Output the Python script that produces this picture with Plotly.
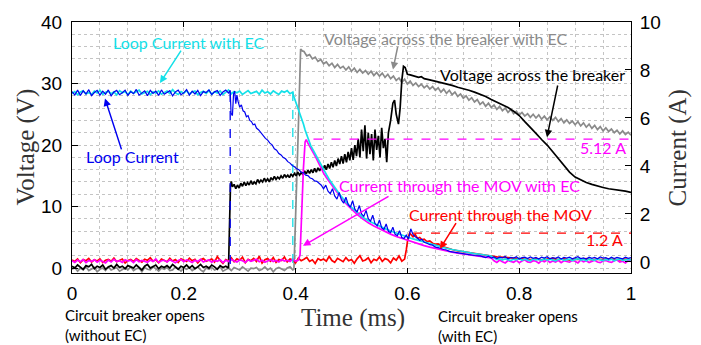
import plotly.graph_objects as go

# ---------------- data ----------------
# time in ms; voltages in V (left axis), currents in A (right axis)
STEP = 0.005

# Loop current (no EC), blue, A
loop_flat = [7.10,6.96,7.16,6.94,7.13,7.00,7.18,6.93,7.06,7.15,
             6.95,7.12,6.99,7.17,6.92,7.08,7.15,6.97,7.05,7.16,
             6.94,7.10,7.01,7.19,6.95,7.06,7.13,6.93,7.15,7.02,
             7.12,6.94,7.17,6.99,7.08,7.14,6.92,7.09,7.16,6.97,
             7.05,7.18,6.95,7.12,7.00,7.15,6.93,7.10,7.06,7.17,
             6.98,7.09,7.14,6.94,7.08,7.16,7.04]
loop_tr_t = [0.283,0.2845,0.287,0.289,0.291,0.293,0.295,0.297,0.300,0.303,0.306,0.309,0.312,0.315,0.318,
             0.321,0.324,0.327,0.330,0.334,0.338,0.342,0.346,0.350,0.354,0.358,0.362,0.366,0.370,0.374,
             0.378,0.382,0.386,0.390,0.394,0.398,0.402,0.406,0.410,0.414,0.418,0.422,0.426,0.430,0.434,
             0.438,0.442,0.446,0.450,0.454,0.458,0.462,0.466,0.470,0.474,0.478,0.482,0.486,0.490,0.494,
             0.498,0.502,0.506,0.510,0.514,0.518,0.522,0.526,0.530,0.534,0.538,0.542,0.546,0.550,0.554,
             0.558,0.562,0.566,0.570,0.574,0.578,0.582,0.586,0.590,0.594,0.598,0.602,0.606,0.610,0.614,
             0.618,0.622,0.626,0.630,0.635,0.640,0.645,0.650,0.655,0.660,0.665,0.670,0.675,0.680,0.690,
             0.700,0.710,0.720,0.730]
loop_tr_i = [7.15,6.2,6.1,7.0,7.12,6.6,6.95,6.7,6.45,6.55,6.3,6.25,6.05,6.1,5.9,
             5.85,5.72,5.75,5.58,5.5,5.38,5.3,5.15,5.08,4.95,4.88,4.72,4.66,4.52,4.46,
             4.35,4.3,4.18,4.12,4.02,3.97,3.88,3.84,3.74,3.72,3.62,3.6,3.5,3.47,3.38,
             3.36,3.28,3.2,3.05,3.2,2.95,2.85,3.05,2.75,2.62,2.9,2.58,2.45,2.7,2.4,
             2.28,2.55,2.2,2.08,2.35,2.0,1.9,2.15,1.8,1.7,1.95,1.6,1.5,1.75,1.42,
             1.35,1.58,1.28,1.22,1.45,1.15,1.1,1.3,1.02,0.98,1.12,0.95,1.38,1.15,1.05,
             1.0,0.9,0.95,0.82,0.78,0.72,0.7,0.62,0.6,0.55,0.52,0.5,0.44,0.42,0.38,
             0.33,0.31,0.27,0.25]
loop_tail = [0.22,0.18,0.24,0.16,0.21,0.14,0.2,0.17,0.23,0.13,
             0.19,0.16,0.22,0.12,0.18,0.2,0.14,0.21,0.15,0.19,
             0.12,0.2,0.16,0.22,0.13,0.18,0.15,0.21,0.12,0.19,
             0.16,0.2,0.13,0.18,0.22,0.14,0.17,0.12,0.2,0.15,
             0.19,0.13,0.21,0.16,0.18,0.12,0.2,0.14,0.19,0.16,
             0.13,0.2,0.15,0.18]

# Loop current with EC, cyan, A
loopec_flat = [7.02,7.10,6.97,7.08,7.13,7.00,7.06,6.98,7.12,7.04,
               7.15,6.99,7.07,7.11,7.01,7.09,6.96,7.14,7.05,7.10,
               6.98,7.12,7.03,7.08,7.16,7.00,7.06,7.11,6.97,7.09,
               7.04,7.13,6.99,7.07,7.12,7.02,7.18,7.05,6.98,7.10,
               7.03,7.14,7.00,7.08,7.12,6.97,7.06,7.11,7.02,7.15,
               6.99,7.09,7.04,7.13,6.98,7.07,7.17,7.01,7.10,7.05,
               7.12,6.98,7.08,7.14,7.02,7.06,7.11,6.99,7.16,7.04,
               7.09,7.00,7.13,7.05,6.98,7.12,7.07,7.14,7.01,7.08]
loopec_tr_t = [0.396,0.399,0.402,0.405,0.408,0.411,0.414,0.417,0.420,0.423,0.427,0.431,0.435,0.440,0.445,
               0.450,0.455,0.460,0.465,0.470,0.475,0.480,0.485,0.490,0.495,0.500,0.510,0.520,0.530,0.540,
               0.550,0.560,0.570,0.580,0.590,0.600,0.610,0.620,0.630,0.640,0.650,0.660,0.670,0.680,0.690,
               0.700,0.710,0.720,0.730,0.740,0.750]
loopec_tr_i = [6.95,6.75,6.55,6.4,6.15,5.95,5.75,5.5,5.3,5.05,4.85,4.68,4.5,4.28,4.05,
               3.85,3.65,3.45,3.27,3.1,2.93,2.78,2.64,2.5,2.38,2.27,2.06,1.87,1.72,1.6,
               1.5,1.39,1.29,1.2,1.12,1.04,0.96,0.9,0.83,0.76,0.69,0.62,0.57,0.52,0.47,
               0.43,0.39,0.35,0.32,0.29,0.25]
loopec_tail = [0.16,0.10,0.14,0.08,0.13,0.11,0.06,0.12,0.09,0.15,
               0.07,0.12,0.10,0.05,0.13,0.09,0.11,0.06,0.14,0.08,
               0.12,0.10,0.05,0.11,0.13,0.07,0.10,0.12,0.06,0.09,
               0.14,0.08,0.11,0.05,0.12,0.10,0.07,0.13,0.09,0.06,
               0.11,0.08,0.12,0.05,0.10,0.13,0.07,0.09,0.11,0.08]

# Current through the MOV with EC, magenta, A
movec_flat = [0.05,-0.02,0.08,0.01,0.10,-0.03,0.06,0.02,0.09,-0.01,
              0.07,0.03,-0.04,0.08,0.00,0.11,0.02,0.05,-0.02,0.09,
              0.04,0.07,-0.03,0.10,0.01,0.06,0.03,-0.01,0.08,0.02,
              0.12,-0.02,0.05,0.07,0.00,0.09,0.03,-0.03,0.06,0.10,
              0.01,0.08,0.04,-0.02,0.07,0.02,0.11,0.00,0.05,0.08,
              -0.01,0.06,0.03,0.09,-0.03,0.07,0.02,0.10,0.04,0.00,
              0.08,0.05,-0.02,0.09,0.03,0.06,0.11,0.01,0.07,-0.01,
              0.05,0.09,0.02,0.06,0.00,0.10,0.04,0.07,0.02,0.12,
              0.03,0.08]
movec_tr_t = [0.408,0.411,0.414,0.417,0.419,0.422,0.426,0.430,0.434,0.438,0.442,0.446,0.450,0.455,0.460,
              0.465,0.470,0.475,0.480,0.485,0.490,0.495,0.500,0.510,0.520,0.530,0.540,0.550,0.560,0.570,
              0.580,0.590,0.600,0.610,0.620,0.630,0.640,0.650,0.660,0.670,0.680,0.690,0.700,0.710,0.720,
              0.730,0.740,0.750]
movec_tr_i = [0.3,2.2,3.9,5.0,5.1,4.95,4.8,4.62,4.45,4.28,4.08,3.88,3.7,3.52,3.38,
              3.2,3.03,2.88,2.72,2.58,2.44,2.32,2.2,1.98,1.8,1.63,1.5,1.38,1.27,1.16,
              1.06,0.98,0.9,0.82,0.75,0.68,0.62,0.56,0.5,0.45,0.41,0.37,0.33,0.29,0.26,
              0.23,0.2,0.17]
movec_tail = [0.05,-0.02,0.08,0.01,-0.04,0.06,0.02,-0.01,0.07,-0.03,
              0.04,0.09,0.00,-0.02,0.05,0.03,-0.05,0.06,0.01,0.08,
              -0.02,0.04,0.00,0.07,-0.03,0.05,0.02,-0.01,0.06,0.03,
              -0.04,0.08,0.01,0.05,-0.02,0.03,0.07,0.00,-0.03,0.04,
              0.06,0.01,-0.02,0.05,0.08,0.00,0.03,-0.04,0.06,0.02]

# Current through the MOV (no EC), red, A
mov_flat = [0.08,0.02,0.12,-0.03,0.10,0.05,0.15,0.00,0.09,0.04,
            0.13,-0.02,0.07,0.11,0.03,0.16,0.01,0.08,0.12,-0.04,
            0.06,0.10,0.02,0.14,0.05,-0.01,0.11,0.07,0.18,0.03,
            0.09,-0.03,0.12,0.06,0.01,0.15,0.04,0.10,-0.02,0.13,
            0.07,0.02,0.16,0.05,0.11,-0.04,0.09,0.14,0.03,0.08,
            0.12,0.00,0.22,0.06,-0.06,0.10,0.04,0.17,0.01,0.13,
            0.07,0.20,-0.03,0.11,0.05,0.15,0.02,0.24,-0.05,0.09,
            0.14,0.03,0.18,-0.02,0.10,0.06,0.21,0.00,0.12,0.08,
            -0.04,0.16,0.05,0.11,0.19,0.02,0.09,-0.06,0.14,0.07,
            0.12,0.03,0.23,0.06,-0.02,0.15,0.09,0.01,0.18,0.05,
            0.10,-0.05,0.13,0.26,0.04,0.08,0.17,-0.03,0.11,0.06,
            0.21,0.02,0.14,0.09,-0.04,0.16,0.07,0.25,0.03,0.12]
mov_tr_t = [0.598,0.601,0.604,0.607,0.610,0.614,0.618,0.622,0.626,0.630,0.635,0.640,0.645,0.650,0.655,
            0.660,0.665,0.670,0.675,0.680,0.690,0.700,0.710,0.720,0.730,0.740,0.750,0.760,0.780,0.800]
mov_tr_i = [0.5,1.0,1.2,1.1,1.05,1.15,0.98,1.02,0.92,0.95,0.85,0.88,0.78,0.74,0.75,
            0.66,0.62,0.6,0.55,0.52,0.46,0.42,0.38,0.34,0.3,0.27,0.24,0.21,0.18,0.15]
mov_tail = [0.14,0.10,0.13,0.09,0.12,0.15,0.10,0.13,0.08,0.12,
            0.11,0.14,0.09,0.12,0.10,0.13,0.11,0.09,0.12,0.10]

# Voltage across the breaker (no EC), black, V
vb_flat = [0.3,0.0,0.5,0.1,-0.2,0.4,0.2,0.6,-0.1,0.3,
           0.1,0.5,-0.2,0.2,0.4,0.0,0.6,0.1,0.3,-0.1,
           0.4,0.2,0.0,0.5,0.1,-0.3,0.3,0.6,0.0,0.2,
           0.5,-0.1,0.3,0.1,0.4,0.0,0.6,0.2,-0.2,0.3,
           0.1,0.5,0.0,0.4,-0.1,0.2,0.6,0.1,0.3,0.0,
           0.5,0.2,-0.2,0.4,0.1,0.3,0.0]
vb_tr_t = [0.2835,0.285,0.287,0.290,0.293,0.296,0.299,0.302,0.305,0.308,0.311,0.314,0.317,0.320,0.323,
           0.326,0.329,0.332,0.335,0.338,0.341,0.344,0.347,0.350,0.353,0.356,0.359,0.362,0.365,0.368,
           0.371,0.374,0.377,0.380,0.383,0.386,0.389,0.392,0.395,0.398,0.401,0.404,0.407,0.410,0.413,
           0.416,0.419,0.422,0.425,0.428,0.431,0.434,0.437,0.440,0.443,0.446,0.449,0.452,0.455,0.458,
           0.461,0.464,0.467,0.470,0.473,0.476,0.479,0.482,0.485,0.488,0.491,0.494,0.497,0.500,0.503,
           0.506,0.509,0.512,0.515,0.518,0.521,0.524,0.527,0.530,0.533,0.536,0.539,0.542,0.545,0.548,
           0.551,0.554,0.557,0.560,0.563,0.566,0.570,0.574,0.577,0.580,0.584,0.587,0.590,0.593,0.596,
           0.600,0.605,0.610,0.615,0.620,0.625,0.630,0.640,0.650,0.660,0.670,0.680,0.690,0.700,0.710,
           0.720,0.730,0.740,0.750,0.760,0.770,0.780,0.790,0.800,0.810,0.820,0.830,0.840,0.850,0.860,
           0.870,0.880,0.890,0.900,0.910,0.920,0.930,0.940,0.950,0.960,0.970,0.980,0.990,1.000]
vb_tr_v = [13.5,14.1,13.2,13.6,12.9,13.5,13.0,13.8,13.3,14.0,13.4,13.9,13.5,14.2,13.6,
           14.0,13.7,14.4,13.9,14.3,14.0,14.6,14.1,14.5,14.0,14.7,14.3,14.9,14.4,14.8,
           14.5,15.0,14.6,15.2,14.8,15.1,14.7,15.3,14.9,15.4,15.0,15.6,15.1,15.5,15.2,
           15.8,15.3,15.9,15.4,16.0,15.5,16.2,15.6,16.3,15.8,16.5,15.9,16.7,16.0,16.9,
           16.2,17.2,16.4,17.5,16.6,17.8,16.9,18.2,17.0,18.5,17.2,18.9,17.5,19.5,17.6,
           20.0,18.2,21.0,18.0,22.5,19.0,23.2,17.8,22.0,18.5,21.8,17.5,22.5,19.2,21.5,
           18.0,22.8,19.5,21.0,17.2,22.0,24.0,26.8,27.3,25.0,23.4,26.0,30.5,32.8,32.6,
           31.5,31.4,31.3,31.2,31.0,31.1,30.8,30.6,30.4,30.2,30.0,29.7,29.4,29.2,28.9,
           28.6,28.3,27.9,27.4,27.0,26.5,26.1,25.5,24.8,23.8,22.9,21.9,20.9,20.0,18.9,
           17.8,16.6,15.6,14.8,14.3,13.9,13.6,13.3,13.1,12.9,12.8,12.7,12.5,12.3]

# Voltage across the breaker with EC, gray, V
vbec_flat = [-0.2,0.1,-0.5,0.0,-0.3,0.2,-0.4,-0.1,0.1,-0.6,
             -0.2,0.0,-0.4,0.2,-0.3,-0.1,0.1,-0.5,-0.2,0.0,
             -0.3,0.2,-0.4,-0.1,0.0,-0.6,0.1,-0.2,-0.3,0.2,
             -0.1,-0.5,0.0,-0.2,0.1,-0.4,-0.3,0.2,-0.1,-0.5,
             0.0,-0.2,0.1,-0.4,-0.1,0.2,-0.3,-0.6,0.0,-0.2,
             0.1,-0.3,-0.1,0.2,-0.5,-0.2,0.0,-0.4,0.1,-0.1,
             -0.3,0.2,-0.2,-0.5,0.0,-0.1,0.1,-0.4,-0.2,0.2,
             -0.3,0.0,-0.6,-0.1,0.1,-0.2,-0.4,0.0,0.2,-0.3]
vbec_rise_t = [0.397,0.404,0.409,0.412]
vbec_rise_v = [-0.2,20.0,35.6,35.3]
vbec_decay = [35.2,34.5,34.7,34.0,34.3,33.6,33.9,33.2,33.5,32.9,33.3,32.6,33.1,32.5,32.8,
              32.2,32.7,32.0,32.5,31.8,32.3,31.7,32.1,31.5,32.0,31.3,31.8,31.2,31.7,31.0,
              31.5,30.8,31.2,30.5,30.9,30.2,30.7,29.9,30.4,29.7,30.1,29.5,29.9,29.3,29.7,
              29.1,29.5,28.9,29.3,28.6,29.1,28.4,28.9,28.2,28.6,27.9,28.3,27.6,28.0,27.3,
              27.7,27.0,27.4,26.6,27.0,26.3,26.8,26.1,26.5,25.8,26.3,25.6,26.0,25.3,25.8,
              25.1,25.5,24.9,25.3,24.7,25.1,24.5,25.0,24.4,24.9,24.2,24.7,24.1,24.6,24.0,
              24.5,23.8,24.3,23.6,24.1,23.5,23.9,23.3,23.8,23.1,23.6,22.9,23.4,22.7,23.2,
              22.5,23.0,22.3,22.8,22.2,22.6,22.0,22.4,21.8,22.3,21.7,22.1,21.6]

# reference levels and switching instants
open_no_ec = 0.283
open_ec = 0.395
peak_movec = 5.12
peak_mov = 1.2


def grid(start, vals):
    return [round(start + STEP * k, 4) for k in range(len(vals))]


# ---------------- figure ----------------
LATO = "Lato"
C_BLUE, C_CYAN, C_MAG, C_RED, C_GRAY = "#0000f0", "#14e0e8", "#ff00ff", "#ff0000", "#8a8a8a"
LW = 1.7

fig = go.Figure()

def line(x, y, color, axis="y", dash=None, width=LW):
    fig.add_trace(go.Scatter(x=x, y=y, mode="lines", yaxis=axis,
                             line=dict(color=color, width=width, dash=dash),
                             showlegend=False, hoverinfo="skip"))

# gray voltage with EC
line(grid(0, vbec_flat) + vbec_rise_t + grid(0.415, vbec_decay),
     vbec_flat + vbec_rise_v + vbec_decay, C_GRAY)
# black voltage
line(grid(0, vb_flat) + vb_tr_t, vb_flat + vb_tr_v, "#000000")
# red MOV current
line(grid(0, mov_flat) + mov_tr_t + [round(0.81 + 0.01 * k, 3) for k in range(len(mov_tail))],
     mov_flat + mov_tr_i + mov_tail, C_RED, "y2")
# magenta MOV current with EC
line(grid(0, movec_flat) + movec_tr_t + grid(0.755, movec_tail),
     movec_flat + movec_tr_i + movec_tail, C_MAG, "y2")
# cyan loop current with EC
line(grid(0, loopec_flat) + loopec_tr_t + grid(0.755, loopec_tail),
     loopec_flat + loopec_tr_i + loopec_tail, C_CYAN, "y2")
line([open_ec, open_ec], [loopec_flat[-1], -0.4], C_CYAN, "y2", dash="dash", width=1.3)
# blue loop current
line(grid(0, loop_flat) + loop_tr_t + grid(0.735, loop_tail),
     loop_flat + loop_tr_i + loop_tail, C_BLUE, "y2", width=1.2)
line([open_no_ec, open_no_ec], [loop_flat[-1], -0.3], C_BLUE, "y2", dash="dash", width=1.3)
# reference dashed levels
line([0.432, 1.0], [peak_movec, peak_movec], C_MAG, "y2", dash="dash", width=1.1)
line([0.61, 1.0], [peak_mov, peak_mov], C_RED, "y2", dash="dash", width=1.1)

ann = []
def text(x, y, s, color, size=16, xanchor="center", align="center", ref="x", yref="y"):
    ann.append(dict(x=x, y=y, xref=ref, yref=yref, text=s, showarrow=False,
                    font=dict(family=LATO, size=size, color=color),
                    xanchor=xanchor, yanchor="middle", align=align))

def arrow(tx, ty, hx, hy, color):
    ann.append(dict(x=hx, y=hy, ax=tx, ay=ty, xref="x", yref="y", axref="x", ayref="y",
                    text="", showarrow=True, arrowhead=2, arrowsize=1, arrowwidth=1.5,
                    arrowcolor=color, standoff=0, startstandoff=0))

text(0.2093, 36.69, "Loop Current with EC", C_CYAN)
arrow(0.1968, 35.59, 0.1574, 30.08, C_CYAN)
text(0.1091, 18.10, "Loop Current", C_BLUE)
arrow(0.0894, 19.05, 0.0590, 27.56, C_BLUE)
text(0.669, 37.32, "Voltage across the breaker with EC", C_GRAY)
arrow(0.5832, 36.22, 0.5742, 32.28, C_GRAY)
text(0.9928, 31.49, "Voltage across the breaker", "#000000", xanchor="right")
arrow(0.8694, 29.92, 0.8497, 21.25, "#000000")
text(0.694, 13.38, "Current through the MOV with EC", C_MAG)
arrow(0.5689, 11.80, 0.4132, 3.61, C_MAG)
text(0.7657, 8.65, "Current through the MOV", C_RED)
arrow(0.6887, 7.55, 0.6583, 3.14, C_RED)
text(0.9946, 19.68, "5.12 A", C_MAG, xanchor="right")
text(0.9893, 4.71, "1.2 A", C_RED, xanchor="right")
# texts below the axes: paper coordinates so they are not hidden
text(-0.0161, -0.208, "Circuit breaker opens<br>(without EC)", "#000000", size=15,
     xanchor="left", align="left", ref="paper", yref="paper")
arrow(0.229, -5.7, 0.2809, -1.75, "#000000")
text(0.6512, -0.212, "Circuit breaker opens<br>(with EC)", "#000000", size=15,
     xanchor="left", align="left", ref="paper", yref="paper")
arrow(0.6458, -7.3, 0.3953, -1.27, "#000000")

SERIF = "Liberation Serif"
TITLEF = dict(family=SERIF, size=25, color="#333")
ann.append(dict(x=-0.084, y=0.5, xref="paper", yref="paper", text="Voltage (V)", showarrow=False,
                textangle=-90, font=TITLEF, xanchor="center", yanchor="middle"))
ann.append(dict(x=1.084, y=0.5, xref="paper", yref="paper", text="Current (A)", showarrow=False,
                textangle=-90, font=TITLEF, xanchor="center", yanchor="middle"))
ann.append(dict(x=0.502, y=-0.18, xref="paper", yref="paper", text="Time (ms)", showarrow=False,
                font=TITLEF, xanchor="center", yanchor="middle"))

TICKF = dict(family="Liberation Sans", size=19, color="#000")
GRID = "#c4c4c4"
fig.update_layout(
    width=701, height=345, margin=dict(l=72, r=70, t=14, b=72),
    paper_bgcolor="white", plot_bgcolor="white",
    annotations=ann,
    xaxis=dict(range=[0, 1], dtick=0.2, tickformat="~g", ticks="inside", ticklen=5,
               tickcolor="#000", showline=True, linecolor="#000", linewidth=1, mirror="ticks",
               showgrid=True, gridcolor=GRID, griddash="dot", gridwidth=1, zeroline=False,
               minor=dict(dtick=0.05, showgrid=True, gridcolor=GRID, griddash="dot", gridwidth=1),
               tickfont=TICKF, ticklabelstandoff=3),
    yaxis=dict(range=[-0.8, 40], dtick=10, ticks="inside", ticklen=6, tickcolor="#000",
               showline=True, linecolor="#000", linewidth=1,
               showgrid=True, gridcolor=GRID, griddash="dot", gridwidth=1, zeroline=False,
               minor=dict(dtick=2, showgrid=True, gridcolor=GRID, griddash="dot", gridwidth=1),
               tickfont=TICKF, ticklabelstandoff=5),
    yaxis2=dict(range=[-0.46, 10], dtick=2, overlaying="y", side="right", ticks="inside",
                ticklen=6, tickcolor="#000", showline=True, linecolor="#000", linewidth=1,
                showgrid=False, zeroline=False, tickfont=TICKF, ticklabelstandoff=4),
)

fig.write_html("out.html")
